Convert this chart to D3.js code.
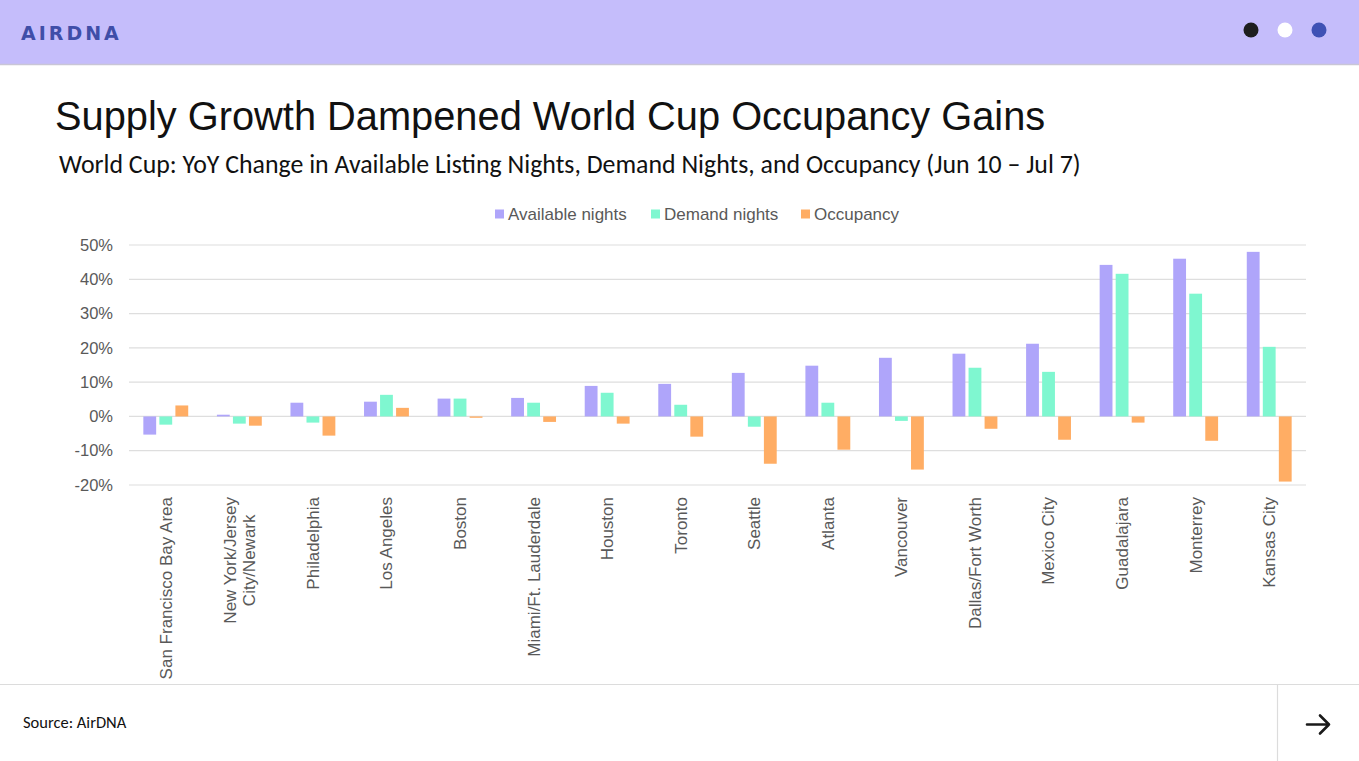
<!DOCTYPE html>
<html>
<head>
<meta charset="utf-8">
<script src="https://cdn.jsdelivr.net/npm/d3@7/dist/d3.min.js"></script>
<style>
    html, body { margin: 0; padding: 0; background: #fff; }
    svg { display: block; }
</style>
</head>
<body>
<script>
var cities = [
    'San Francisco Bay Area', 'New York/Jersey|City/Newark', 'Philadelphia', 'Los Angeles',
    'Boston', 'Miami/Ft. Lauderdale', 'Houston', 'Toronto', 'Seattle', 'Atlanta',
    'Vancouver', 'Dallas/Fort Worth', 'Mexico City', 'Guadalajara', 'Monterrey', 'Kansas City'
];
var availableNights = [-5.3, 0.5, 4.0, 4.3, 5.2, 5.4, 8.9, 9.5, 12.7, 14.8, 17.1, 18.3, 21.2, 44.2, 46.0, 48.0];
var demandNights = [-2.4, -2.1, -1.8, 6.3, 5.2, 4.0, 6.9, 3.4, -3.0, 4.0, -1.3, 14.2, 13.0, 41.6, 35.8, 20.3];
var occupancy = [3.2, -2.7, -5.6, 2.5, -0.4, -1.6, -2.1, -5.9, -13.8, -9.7, -15.5, -3.6, -6.8, -1.8, -7.1, -19.0];
var seriesNames = ['Available nights', 'Demand nights', 'Occupancy'];
var yTicks = [-20, -10, 0, 10, 20, 30, 40, 50];

(function () {
    var width = 1359,
        height = 761,
        colors = ['#afa5fa', '#7ff7d0', '#ffad64'],
        series = [availableNights, demandNights, occupancy],
        grey = '#595959',
        svg, x0, x1, y, groups, legend, sub, subLen;

    svg = d3.select('body').append('svg')
        .attr('width', width)
        .attr('height', height)
        .style('font-family', 'Arial, "Liberation Sans", sans-serif');

    // header band
    svg.append('rect').attr('x', 0).attr('y', 0).attr('width', width).attr('height', 64).attr('fill', '#c5bdfb');
    svg.append('line').attr('x1', 0).attr('x2', width).attr('y1', 64.5).attr('y2', 64.5)
        .attr('stroke', '#c9c6d6').attr('stroke-width', 1.5);
    svg.append('text').attr('x', 21).attr('y', 40)
        .attr('fill', '#3f4ea8').attr('font-size', 19).attr('font-weight', 'bold')
        .attr('letter-spacing', 3)
        .style('font-family', '"DejaVu Sans", sans-serif')
        .text('AIRDNA');
    svg.selectAll('circle.dot').data(['#1e1e1e', '#ffffff', '#3f51b5']).enter().append('circle')
        .attr('class', 'dot')
        .attr('cx', function (d, i) { return 1251 + i * 34; })
        .attr('cy', 30)
        .attr('r', 7.5)
        .attr('fill', function (d) { return d; });

    // titles
    svg.append('text').attr('x', 55).attr('y', 130)
        .attr('font-size', 39.8).attr('fill', '#111')
        .text('Supply Growth Dampened World Cup Occupancy Gains');
    sub = svg.append('text').attr('x', 59).attr('y', 173)
        .attr('font-size', 24).attr('fill', '#111')
        .style('font-family', 'Carlito, Calibri, Lato, sans-serif')
        .text('World Cup: YoY Change in Available Listing Nights, Demand Nights, and Occupancy (Jun 10 \u2013 Jul 7)');
    // fit subtitle to the width it has in the slide
    subLen = sub.node().getComputedTextLength();
    sub.attr('font-size', 24 * 1022 / subLen);

    // scales
    x0 = d3.scaleBand().domain(cities).range([129, 1306]).paddingInner(0.39).paddingOuter(0.195);
    x1 = d3.scaleBand().domain(seriesNames).range([0, x0.bandwidth()]).paddingInner(0.2);
    y = d3.scaleLinear().domain([-20, 50]).range([485, 245]);

    // gridlines + y labels
    svg.append('g').selectAll('line').data(yTicks).enter().append('line')
        .attr('x1', 129).attr('x2', 1306)
        .attr('y1', function (d) { return y(d); })
        .attr('y2', function (d) { return y(d); })
        .attr('stroke', '#dedede').attr('stroke-width', 1.2);

    svg.append('g').selectAll('text').data(yTicks).enter().append('text')
        .attr('x', 113)
        .attr('y', function (d) { return y(d); })
        .attr('dy', '0.35em')
        .attr('text-anchor', 'end')
        .attr('font-size', 16.5)
        .attr('fill', grey)
        .text(function (d) { return d + '%'; });

    // bars
    groups = svg.append('g').selectAll('g').data(cities).enter().append('g')
        .attr('transform', function (d) { return 'translate(' + x0(d) + ',0)'; });

    groups.selectAll('rect').data(function (d, i) {
        return series.map(function (s, j) {
            return { name: seriesNames[j], value: s[i], color: colors[j] };
        });
    }).enter().append('rect')
        .attr('x', function (d) { return x1(d.name); })
        .attr('width', x1.bandwidth())
        .attr('y', function (d) { return y(Math.max(0, d.value)); })
        .attr('height', function (d) { return Math.abs(y(d.value) - y(0)); })
        .attr('fill', function (d) { return d.color; });

    // category labels, rotated, lines centred on each other
    groups.each(function (d) {
        var g = d3.select(this),
            lines = d.split('|'),
            cx = x0.bandwidth() / 2,
            t = g.append('text')
                .attr('font-size', 17)
                .attr('fill', grey)
                .attr('text-anchor', 'middle'),
            spans, maxLen = 0;
        spans = t.selectAll('tspan').data(lines).enter().append('tspan')
            .text(function (l) { return l; });
        spans.each(function () {
            maxLen = Math.max(maxLen, this.getComputedTextLength());
        });
        t.attr('transform', 'translate(' + cx + ',' + 497 + ') rotate(-90)');
        spans.attr('x', -maxLen / 2)
            .attr('y', function (l, i) { return (i - (lines.length - 1) / 2) * 18.5; })
            .attr('dy', '0.35em');
    });

    // legend
    legend = svg.append('g').selectAll('g').data(seriesNames).enter().append('g')
        .attr('transform', function (d, i) { return 'translate(' + [495, 651, 801][i] + ',214)'; });
    legend.append('rect')
        .attr('x', 0).attr('y', -4.5).attr('width', 9).attr('height', 9)
        .attr('fill', function (d, i) { return colors[i]; });
    legend.append('text')
        .attr('x', 13).attr('dy', '0.35em')
        .attr('font-size', 17).attr('fill', grey)
        .text(function (d) { return d; });

    // footer
    svg.append('line').attr('x1', 0).attr('x2', width).attr('y1', 684.5).attr('y2', 684.5)
        .attr('stroke', '#dcdcdc').attr('stroke-width', 1.2);
    svg.append('line').attr('x1', 1277.5).attr('x2', 1277.5).attr('y1', 685).attr('y2', height)
        .attr('stroke', '#dcdcdc').attr('stroke-width', 1.2);
    svg.append('text').attr('x', 23).attr('y', 728)
        .attr('font-size', 16.5).attr('fill', '#111')
        .style('font-family', 'Carlito, Calibri, Lato, sans-serif')
        .text('Source: AirDNA');
    svg.append('path')
        .attr('d', 'M1307,724.5H1329M1320,715.5L1329,724.5L1320,733.5')
        .attr('fill', 'none').attr('stroke', '#1a1a1a').attr('stroke-width', 2.6)
        .attr('stroke-linecap', 'round').attr('stroke-linejoin', 'round');
}());
</script>
</body>
</html>
